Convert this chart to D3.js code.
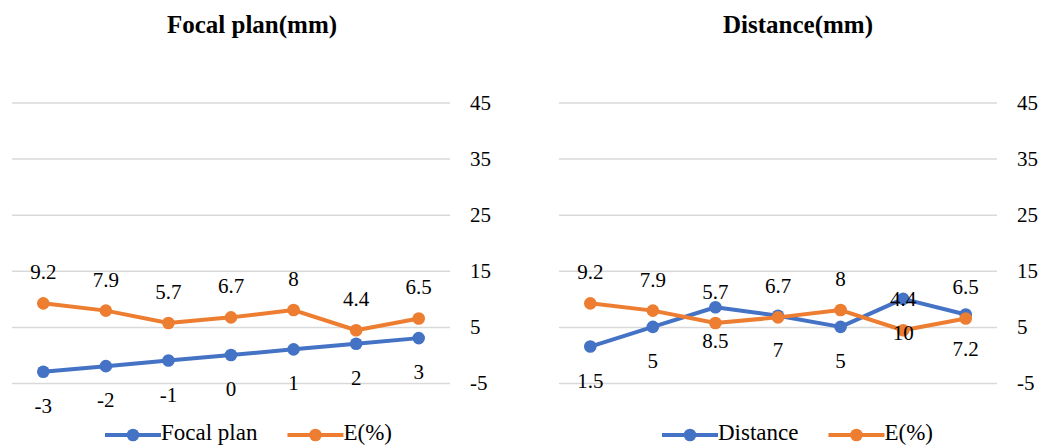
<!DOCTYPE html>
<html>
<head>
<meta charset="utf-8">
<script src="https://cdn.jsdelivr.net/npm/d3@7"></script>
<style>
  html, body { margin: 0; padding: 0; background: #fff; }
  svg { display: block; }
</style>
</head>
<body>
<svg id="chart" width="1043" height="446"></svg>
<script>
// Shared axis ticks
const yTicks = [-5, 5, 15, 25, 35, 45];
const categories = [0, 1, 2, 3, 4, 5, 6];

// Left panel: focal plan offset and error
const focalPlan = [-3, -2, -1, 0, 1, 2, 3];
const focalError = [9.2, 7.9, 5.7, 6.7, 8, 4.4, 6.5];

// Right panel: distance and error
const distance = [1.5, 5, 8.5, 7, 5, 10, 7.2];
const distanceError = [9.2, 7.9, 5.7, 6.7, 8, 4.4, 6.5];

const BLUE = "#4472C4";
const ORANGE = "#ED7D31";
const FONT = "'Liberation Serif'";
const fmt = d => String(d); // plain hyphen for negatives

const svg = d3.select("#chart");

const y = d3.scaleLinear().domain([-5, 45]).range([383, 102.5]);

const panels = [
  { title: "Focal plan(mm)", x0: 12, x1: 450, name: "Focal plan", main: focalPlan, err: focalError,
    legendX: 105, titleX: 252 },
  { title: "Distance(mm)", x0: 559, x1: 997, name: "Distance", main: distance, err: distanceError,
    legendX: 662, titleX: 798 }
];

function txt(sel) {
  return sel.style("font-family", FONT).attr("fill", "#000");
}

panels.forEach(p => {
  const g = svg.append("g");
  const x = d3.scalePoint().domain(categories).range([p.x0, p.x1]).padding(0.5);

  // gridlines + tick labels on the right
  const axis = d3.axisRight(y).tickValues(yTicks).tickSize(-(p.x1 - p.x0)).tickPadding(20)
    .tickFormat(fmt);
  const ax = g.append("g").attr("transform", `translate(${p.x1},0)`).call(axis);
  ax.select(".domain").remove();
  ax.selectAll(".tick line").attr("stroke", "#D9D9D9").attr("stroke-width", 1.5);
  txt(ax.selectAll(".tick text")).style("font-size", "21px");

  // title
  txt(g.append("text"))
    .attr("x", p.titleX).attr("y", 33)
    .attr("text-anchor", "middle").style("font-size", "25px").style("font-weight", "bold")
    .text(p.title);

  const line = d3.line().x((d, i) => x(i)).y(d => y(d));

  const series = [
    { vals: p.main, color: BLUE, dy: 41 },
    { vals: p.err, color: ORANGE, dy: -24 }
  ];

  series.forEach(s => {
    g.append("path").datum(s.vals)
      .attr("d", line).attr("fill", "none")
      .attr("stroke", s.color).attr("stroke-width", 4).attr("stroke-linejoin", "round");
    g.selectAll(null).data(s.vals).enter().append("circle")
      .attr("cx", (d, i) => x(i)).attr("cy", d => y(d)).attr("r", 6.3)
      .attr("fill", s.color);
  });

  series.forEach(s => {
    txt(g.selectAll(null).data(s.vals).enter().append("text"))
      .attr("x", (d, i) => x(i)).attr("y", d => y(d) + s.dy)
      .attr("text-anchor", "middle").style("font-size", "21px")
      .text(fmt);
  });

  // legend
  const lg = g.append("g").attr("transform", `translate(${p.legendX},435)`);
  const items = [{ label: p.name, color: BLUE }, { label: "E(%)", color: ORANGE }];
  let cx = 0;
  items.forEach(it => {
    lg.append("line").attr("x1", cx).attr("x2", cx + 56).attr("y1", 0).attr("y2", 0)
      .attr("stroke", it.color).attr("stroke-width", 4);
    lg.append("circle").attr("cx", cx + 28).attr("cy", 0).attr("r", 6.3).attr("fill", it.color);
    const t = txt(lg.append("text")).attr("x", cx + 56).attr("y", 5).style("font-size", "23px").text(it.label);
    cx += 56 + t.node().getComputedTextLength() + 30;
  });
});
</script>
</body>
</html>
